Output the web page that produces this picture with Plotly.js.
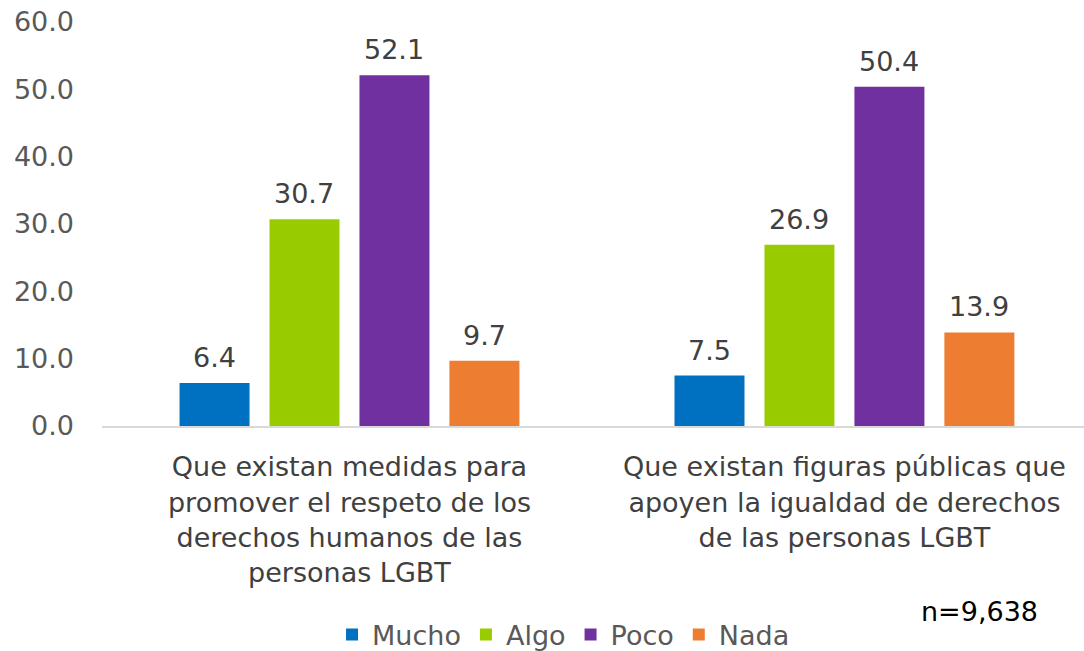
<!DOCTYPE html>
<html>
<head>
<meta charset="utf-8">
<script src="https://cdn.plot.ly/plotly-3.0.1.min.js"></script>
<style>html,body{margin:0;padding:0;background:#fff;}#chart{width:1084px;height:651px;}</style>
</head>
<body>
<div id="chart"></div>
<script>
const categories = [
  "Que existan medidas para<br>promover el respeto de los<br>derechos humanos de las<br>personas LGBT",
  "Que existan figuras públicas que<br>apoyen la igualdad de derechos<br>de las personas LGBT"
];
const seriesNames = ["Mucho", "Algo", "Poco", "Nada"];
const mucho = [6.4, 7.5];
const algo = [30.7, 26.9];
const poco = [52.1, 50.4];
const nada = [9.7, 13.9];
const colors = ["#0070C0", "#99CC00", "#7030A0", "#ED7D31"];
const tickVals = [0, 10, 20, 30, 40, 50, 60];

const values = [mucho, algo, poco, nada];
const font = "DejaVu Sans, sans-serif";
const fs = 27;
const traces = values.map((v, i) => ({
  type: "bar",
  name: seriesNames[i],
  x: categories,
  y: v,
  marker: {color: colors[i]},
  hoverinfo: "none"
}));

const annotations = [];
values.forEach((v, i) => {
  v.forEach((d, j) => {
    annotations.push({
      x: categories[j], y: d, xref: "x", yref: "y",
      xshift: (i - 1.5) * 90, yshift: 8,
      yanchor: "bottom", xanchor: "center",
      text: d.toFixed(1), showarrow: false,
      font: {family: font, size: fs, color: "#404040"}
    });
  });
});
annotations.push({
  text: "n=9,638", xref: "paper", yref: "paper",
  x: 0.894, y: -0.46, xanchor: "center", yanchor: "middle",
  showarrow: false, font: {family: font, size: fs, color: "#000"}
});

const layout = {
  width: 1084, height: 651,
  margin: {l: 102, r: 0, t: 22, b: 225, autoexpand: false},
  paper_bgcolor: "#fff", plot_bgcolor: "#fff",
  barmode: "group",
  bargap: 0.273,
  bargroupgap: 0.222,
  font: {family: font, size: fs, color: "#595959"},
  xaxis: {
    type: "category",
    range: [-0.5, 1.484],
    showline: true, linecolor: "#D9D9D9", linewidth: 2,
    ticks: "", showgrid: false, zeroline: false,
    ticklabelstandoff: 16,
    tickfont: {family: font, size: fs, color: "#404040"}
  },
  yaxis: {
    range: [0, 60],
    tickvals: tickVals,
    ticktext: tickVals.map(t => t.toFixed(1)),
    showgrid: false, zeroline: false, showline: false,
    ticks: "", ticklen: 0,
    ticklabelstandoff: 27,
    tickfont: {family: font, size: fs, color: "#595959"}
  },
  showlegend: true,
  legend: {
    orientation: "h", x: 0.47, xanchor: "center", y: -0.517, yanchor: "middle",
    font: {family: font, size: fs, color: "#595959"},
    itemwidth: 30, tracegroupgap: 0
  },
  annotations: annotations
};

Plotly.newPlot("chart", traces, layout, {displayModeBar: false, staticPlot: true});
</script>
</body>
</html>
